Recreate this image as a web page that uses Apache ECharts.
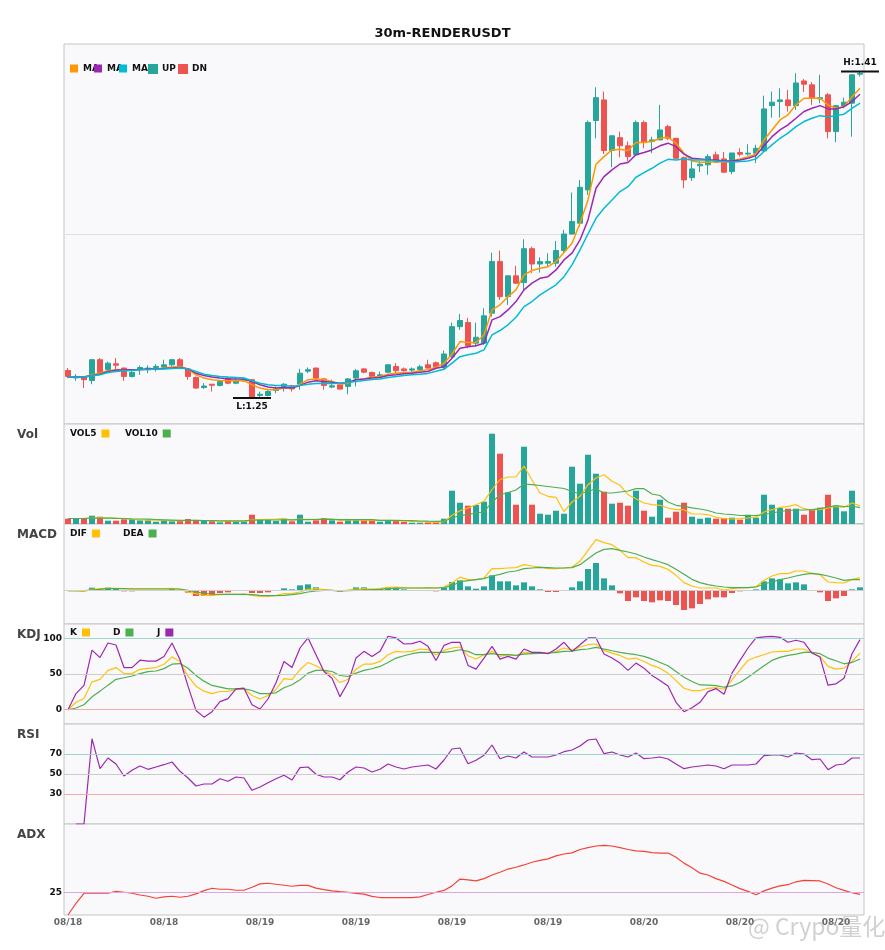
<!DOCTYPE html>
<html><head><meta charset="utf-8">
<script src="https://cdn.jsdelivr.net/npm/echarts@6/dist/echarts.min.js"></script>
<style>html,body{margin:0;padding:0;background:#fff}#c{width:885px;height:950px}</style>
</head><body><div id="c"></div>
<script>
// ---- categories (30m bars starting 08/18 12:00) ----
const categories = [];
(function(){const t0=Date.UTC(2024,7,18,12,0);const p=n=>String(n).padStart(2,'0');
for(let i=0;i<100;i++){const d=new Date(t0+i*1800000);categories.push(p(d.getUTCMonth()+1)+'/'+p(d.getUTCDate())+' '+p(d.getUTCHours())+':'+p(d.getUTCMinutes()));}})();

// ---- price data ----
const opens = [1.2634,1.2598,1.2602,1.2585,1.2687,1.2638,1.2667,1.2646,1.2605,1.2642,
1.2638,1.2649,1.2651,1.2662,1.2687,1.2642,1.2600,1.2551,1.2567,1.2561,
1.2597,1.2572,1.2584,1.2589,1.2512,1.2512,1.2536,1.2548,1.2559,1.2567,
1.2631,1.2646,1.2593,1.2553,1.2564,1.2556,1.2597,1.2642,1.2624,1.2607,
1.2626,1.2654,1.2642,1.2636,1.2639,1.2662,1.2672,1.2650,1.2702,1.2849,
1.2869,1.2768,1.2768,1.2915,1.3168,1.2996,1.3098,1.3065,1.3231,1.3156,
1.3160,1.3160,1.3222,1.3303,1.3356,1.3519,1.3859,1.3960,1.3712,1.3775,
1.3735,1.3691,1.3849,1.3756,1.3764,1.3829,1.3772,1.3677,1.3579,1.3637,
1.3642,1.3691,1.3671,1.3609,1.3702,1.3695,1.3699,1.3710,1.3932,1.3952,
1.3960,1.3932,1.4053,1.4034,1.3965,1.3985,1.3805,1.3932,1.3944,1.4086];
const closes = [1.2605,1.2605,1.2589,1.2687,1.2624,1.2670,1.2660,1.2605,1.2624,1.2649,
1.2646,1.2654,1.2662,1.2687,1.2649,1.2605,1.2548,1.2558,1.2562,1.2580,
1.2572,1.2584,1.2592,1.2502,1.2518,1.2531,1.2543,1.2567,1.2544,1.2621,
1.2638,1.2597,1.2561,1.2559,1.2543,1.2593,1.2633,1.2626,1.2605,1.2613,
1.2662,1.2633,1.2633,1.2642,1.2652,1.2646,1.2652,1.2715,1.2849,1.2879,
1.2755,1.2797,1.2902,1.3168,1.2996,1.3098,1.3062,1.3231,1.3156,1.3168,
1.3168,1.3222,1.3303,1.3364,1.3532,1.3849,1.3971,1.3712,1.3784,1.3735,
1.3682,1.3849,1.3751,1.3764,1.3813,1.3772,1.3674,1.3568,1.3622,1.3645,
1.3682,1.3655,1.3606,1.3700,1.3694,1.3699,1.3723,1.3916,1.3949,1.3960,
1.3932,1.4043,1.4037,1.3968,1.3971,1.3805,1.3932,1.3949,1.4083,1.4091];
const lows = [1.2597,1.2584,1.2548,1.2567,1.2621,1.2621,1.2638,1.2584,1.2600,1.2613,
1.2621,1.2629,1.2642,1.2654,1.2646,1.2589,1.2544,1.2544,1.2531,1.2556,
1.2567,1.2567,1.2577,1.2499,1.2499,1.2507,1.2523,1.2531,1.2531,1.2540,
1.2621,1.2593,1.2540,1.2548,1.2540,1.2518,1.2556,1.2621,1.2602,1.2597,
1.2621,1.2621,1.2629,1.2626,1.2633,1.2642,1.2646,1.2637,1.2694,1.2833,
1.2743,1.2751,1.2760,1.2898,1.2980,1.2956,1.3059,1.3029,1.3111,1.3114,
1.3143,1.3143,1.3209,1.3299,1.3339,1.3495,1.3772,1.3695,1.3630,1.3679,
1.3658,1.3691,1.3723,1.3699,1.3764,1.3764,1.3671,1.3527,1.3563,1.3606,
1.3593,1.3655,1.3601,1.3596,1.3682,1.3687,1.3650,1.3707,1.3873,1.3873,
1.3903,1.3911,1.3998,1.3936,1.3944,1.3772,1.3753,1.3919,1.3780,1.4075];
const highs = [1.2646,1.2616,1.2605,1.2691,1.2695,1.2678,1.2695,1.2649,1.2638,1.2659,
1.2659,1.2665,1.2687,1.2691,1.2695,1.2646,1.2605,1.2572,1.2567,1.2584,
1.2605,1.2597,1.2600,1.2592,1.2531,1.2540,1.2556,1.2572,1.2564,1.2642,
1.2649,1.2649,1.2597,1.2589,1.2567,1.2597,1.2642,1.2646,1.2629,1.2629,
1.2665,1.2670,1.2649,1.2649,1.2662,1.2687,1.2678,1.2732,1.2869,1.2911,
1.2892,1.2869,1.2939,1.3212,1.3222,1.3098,1.3147,1.3277,1.3241,1.3189,
1.3209,1.3269,1.3323,1.3506,1.3568,1.3859,1.4022,1.4001,1.3784,1.3805,
1.3756,1.3859,1.3859,1.3780,1.3936,1.3838,1.3772,1.3682,1.3666,1.3661,
1.3694,1.3707,1.3704,1.3700,1.3723,1.3743,1.3740,1.3981,1.4001,1.4017,
1.4009,1.4091,1.4063,1.4047,1.4083,1.3993,1.3932,1.3971,1.4083,1.4099];

const ma5 = [1.2602,1.2603,1.2603,1.2613,1.2621,1.2633,1.2638,1.2636,1.2636,1.2638,
1.2642,1.2642,1.2646,1.2651,1.2654,1.2642,1.2613,1.2597,1.2589,1.2585,
1.2584,1.2584,1.2585,1.2564,1.2548,1.2540,1.2540,1.2548,1.2548,1.2567,
1.2589,1.2592,1.2589,1.2580,1.2567,1.2572,1.2589,1.2593,1.2602,1.2605,
1.2616,1.2621,1.2624,1.2626,1.2633,1.2638,1.2650,1.2670,1.2715,1.2776,
1.2771,1.2771,1.2809,1.2931,1.2956,1.2996,1.3029,1.3103,1.3124,1.3135,
1.3143,1.3168,1.3212,1.3258,1.3356,1.3470,1.3645,1.3682,1.3715,1.3718,
1.3712,1.3751,1.3751,1.3756,1.3772,1.3777,1.3748,1.3699,1.3661,1.3655,
1.3655,1.3658,1.3655,1.3661,1.3671,1.3682,1.3694,1.3764,1.3813,1.3862,
1.3887,1.3936,1.3968,1.3968,1.3968,1.3936,1.3919,1.3927,1.3976,1.4017];
const ma10 = [1.2602,1.2602,1.2602,1.2610,1.2616,1.2629,1.2636,1.2636,1.2638,1.2639,
1.2641,1.2642,1.2644,1.2646,1.2649,1.2642,1.2621,1.2610,1.2602,1.2597,
1.2593,1.2592,1.2592,1.2580,1.2564,1.2553,1.2548,1.2551,1.2548,1.2561,
1.2577,1.2584,1.2580,1.2577,1.2572,1.2577,1.2589,1.2592,1.2597,1.2600,
1.2610,1.2613,1.2618,1.2621,1.2626,1.2629,1.2645,1.2653,1.2694,1.2743,
1.2751,1.2755,1.2768,1.2882,1.2898,1.2931,1.2972,1.3029,1.3062,1.3086,
1.3094,1.3127,1.3176,1.3209,1.3274,1.3372,1.3527,1.3584,1.3617,1.3646,
1.3653,1.3691,1.3702,1.3715,1.3735,1.3748,1.3731,1.3694,1.3674,1.3671,
1.3667,1.3666,1.3661,1.3661,1.3666,1.3674,1.3687,1.3736,1.3780,1.3813,
1.3838,1.3870,1.3903,1.3919,1.3932,1.3916,1.3916,1.3927,1.3952,1.3988];
const ma20 = [1.2602,1.2602,1.2602,1.2608,1.2613,1.2624,1.2629,1.2633,1.2634,1.2638,
1.2639,1.2641,1.2642,1.2644,1.2646,1.2642,1.2629,1.2616,1.2610,1.2605,
1.2602,1.2600,1.2597,1.2584,1.2572,1.2564,1.2561,1.2561,1.2556,1.2561,
1.2567,1.2571,1.2572,1.2571,1.2572,1.2577,1.2580,1.2585,1.2590,1.2593,
1.2600,1.2605,1.2610,1.2613,1.2616,1.2620,1.2630,1.2640,1.2670,1.2702,
1.2711,1.2719,1.2735,1.2809,1.2830,1.2858,1.2895,1.2947,1.2972,1.3005,
1.3029,1.3054,1.3094,1.3152,1.3225,1.3303,1.3380,1.3429,1.3470,1.3511,
1.3535,1.3581,1.3604,1.3625,1.3650,1.3669,1.3666,1.3671,1.3666,1.3666,
1.3665,1.3661,1.3658,1.3655,1.3658,1.3661,1.3671,1.3707,1.3740,1.3772,
1.3797,1.3829,1.3854,1.3870,1.3883,1.3878,1.3883,1.3890,1.3919,1.3944];

// ---- volume (K) ----
const volumes = [5.3,5,6,8.3,7.3,3.3,3.3,4.7,4.7,3.7,
3.7,2.3,4,2.7,3,5,3.7,3,2.7,1.7,
3,2.7,2.7,9.3,4,4,3,5.3,2.7,9.3,
2.3,3.7,6,3.7,2.3,4,5,3.7,3.7,2.3,
3.7,3.3,2.3,1.3,1.3,1.7,2,5.3,33.3,21.3,
18.3,19,22.3,90.3,70.3,31.7,19.3,77.3,19.3,10.3,
9.3,13.3,10.3,57.3,40.3,69.3,50.3,32.3,20.3,21.3,
18.3,33.3,13.3,7.3,24.3,6.3,12.3,21.3,7.3,5.3,
6.3,5.3,6,6.3,4.3,9.3,6.3,29.3,19.3,16,
15.3,15.3,9.3,14.3,16.3,29.3,18.3,12.7,33.3,0.3];
const vol5 = [5.5,5.5,5.7,6,6.5,6,5.8,5.5,4.5,4,
3.8,3.8,3.6,3.3,3.2,3.5,3.6,3.5,3.5,3,
2.8,2.6,2.6,4.2,4.5,4.7,4.8,5.3,3.8,4.9,
4.6,4.7,4.8,5,3.6,3.9,4.2,3.7,3.7,3.7,
3.7,3.3,3.1,2.6,2.4,2,1.7,2.3,8.7,13.3,
16,19.3,22.7,34.5,44.5,47,47,58,44,31,
27.7,26.7,12.3,22,27.7,39.3,46,49.3,42.7,38.7,
29.3,25.3,21,19.3,18.7,16,14.3,14.3,10,10,
9.3,6.7,5.3,5,5.3,6,6.7,12,14.3,16.7,
17.7,19.3,15.3,14,14.3,16,17.7,16.7,21,18.3];
const vol10 = [5.5,5.5,5.5,5.8,5.9,5.8,5.6,5.5,5.2,5,
4.8,4.5,4.2,3.9,3.6,3.6,3.6,3.4,3.3,3.1,
3.2,3.1,3.1,3.8,3.9,4,4,4.2,4.2,4.4,
4.4,4.5,4.8,4.6,4.4,4.4,4.4,4.3,4.3,3.7,
3.7,3.6,3.5,3.3,3,2.8,2.7,2.8,5.8,8.7,
9.3,11,12,22,29,31.5,34,40,39.3,38.5,
37.5,36.5,35.5,32.5,30,32.7,35.3,31,31,32,
33,35.3,35.3,30,28.5,22,18.7,17.7,16.2,15,
13.5,11,10,9.5,8.5,8.5,8.3,9.5,11,12.5,
13.5,14,14,14.3,15.3,17,18.3,17.5,17.5,16.7];

// ---- MACD ----
const macdHist = [0,0,0,0.0009,0.0004,0.0009,0.0008,-0.0002,-0.0002,0.0001,
0.0001,0.0001,0.0001,0.0007,-0.0001,-0.0006,-0.0016,-0.0016,-0.0014,-0.0007,
-0.0005,-0.0001,0.0001,-0.0007,-0.0007,-0.0005,0.0001,0.0007,0.0004,0.0016,
0.0019,0.001,0.0004,0.0001,-0.0003,0.0002,0.001,0.001,0.0003,0.0006,
0.001,0.001,0.0004,0.0001,0.0001,0.0001,-0.0002,0.0008,0.0026,0.0031,
0.0013,0.0006,0.0013,0.0046,0.0028,0.0028,0.0016,0.0025,0.0013,0.0004,
-0.0004,-0.0004,0.0001,0.001,0.0028,0.0065,0.0083,0.0037,0.0016,-0.0008,
-0.0031,-0.002,-0.0031,-0.0035,-0.0029,-0.0031,-0.0043,-0.0058,-0.0053,-0.004,
-0.0026,-0.002,-0.002,-0.0007,-0.0002,0.0001,0.0004,0.0028,0.0037,0.0034,
0.0022,0.0025,0.0019,0.0001,-0.0005,-0.0031,-0.0023,-0.0016,0.0004,0.001];
const dif = [0,-0.0001,-0.0002,0.0004,0.0006,0.0008,0.0007,0.0006,0.0006,0.0006,
0.0006,0.0006,0.0006,0.0007,0.0004,-0.0004,-0.0009,-0.0014,-0.0014,-0.0012,
-0.0011,-0.0011,-0.001,-0.0014,-0.0017,-0.0017,-0.0014,-0.0009,-0.0009,-0.0004,
0.0004,0.0006,0.0003,0.0001,-0.0001,0.0002,0.0005,0.0006,0.0005,0.0006,
0.001,0.0011,0.0009,0.0008,0.0008,0.0009,0.0008,0.0011,0.0024,0.004,
0.0034,0.0033,0.0038,0.0066,0.0066,0.0068,0.0069,0.0078,0.0074,0.0071,
0.0066,0.0066,0.0068,0.0071,0.0088,0.0121,0.0153,0.0144,0.0138,0.0121,
0.0099,0.0099,0.0086,0.0076,0.0073,0.0064,0.0046,0.0024,0.0014,0.0008,
0.0008,0.0008,0.0002,0.0006,0.0008,0.0009,0.0012,0.0031,0.0044,0.0051,
0.0051,0.0059,0.0059,0.0051,0.0048,0.0026,0.0024,0.0023,0.0034,0.0039];
const dea = [0,0,0,0.0002,0.0004,0.0006,0.0006,0.0006,0.0005,0.0005,
0.0005,0.0005,0.0005,0.0005,0.0005,0.0001,-0.0004,-0.0008,-0.001,-0.0011,
-0.0011,-0.0011,-0.0011,-0.0012,-0.0014,-0.0015,-0.0015,-0.0014,-0.0012,-0.0009,
-0.0004,-0.0001,0.0001,0.0001,-0.0001,0,0.0001,0.0002,0.0003,0.0004,
0.0006,0.0007,0.0008,0.0008,0.0008,0.0008,0.0008,0.0009,0.0015,0.0027,
0.003,0.0033,0.0036,0.0044,0.0049,0.0056,0.0059,0.0066,0.0068,0.007,
0.0069,0.0068,0.0068,0.0069,0.0078,0.0096,0.0113,0.0124,0.0126,0.0121,
0.0116,0.011,0.0101,0.0093,0.0086,0.0078,0.0064,0.0049,0.0034,0.0024,
0.0018,0.0014,0.0011,0.0009,0.0009,0.0009,0.0011,0.002,0.0026,0.0033,
0.0038,0.0044,0.0049,0.0052,0.0049,0.0044,0.0038,0.0031,0.0033,0.0033];

// ---- KDJ ----
const kLine = [0,10.4,15.6,39,42.5,55,59,50.5,50.5,56.6,
58,59,63.7,74,67,47,33,26,22.6,25.5,
25.5,28.3,29.2,19.8,15,19.8,28.3,43.4,42,56,
66.2,61.5,55,48.8,38,42.7,56.8,63.8,63.8,67.6,
77,81.7,80.8,81.7,85,84,77,83,86.4,87.8,
75.6,70.9,77,81.7,74.6,77,75.6,80.3,79.3,79.3,
79.3,81.7,86.4,83.5,87.8,91,92,83,79.3,76,
70.9,72.3,67.6,62,58.2,51.2,40.8,30,26.8,26.8,
30,31,28.6,41.8,55.9,69,73.7,77,80.8,81.7,
81.7,85,85,79.3,74.6,60.6,56.8,58.2,67.6,79.3];
const dLine = [0,2.4,7,18,26,34.4,42.5,44.8,47.2,50.5,
53.3,54.2,57.5,63.7,64.6,58,48,40,34,31.6,
29.2,29.2,29.2,26.9,22.6,22.6,23.6,30.7,35,41.8,
51.2,55,55,53.5,47.9,46.5,51.2,55,57.3,60.6,
66.2,72.3,75.6,78.4,80.3,80.3,80.3,80.3,81.7,84,
81.7,77,77,78.4,77,77,76,77.9,78.4,78.9,
79.3,80.3,81.7,82,84,85,87.3,85,82.6,80.3,
78.4,77,74.6,70.9,66.2,61.5,53.5,45.5,39.4,34.7,
34.3,33.8,31.5,33.3,38,45.5,53.5,61.5,69,73.2,
76,77.9,80.3,80.3,78.4,72.3,68.5,64.3,66.2,70.9];
const jLine = [0,22.6,34,83.5,73,93.4,90.6,59,59,69.3,
68,68,74.5,93.4,70,33,-1,-10.4,-2.8,11.3,
15.6,29.2,30.2,7,1,15,37.7,67.5,59,86.4,
100.5,77,53.5,44,18.3,38,72.3,81.7,74.6,81.7,
102.8,100.5,92,92.5,95.8,88.7,69,90,94.4,94.4,
62,56.8,72.3,88.7,70.9,74.6,70.9,85,80.3,80.3,
78.4,85,94.4,81.7,91,100.5,100.5,78,72.3,65.3,
55,65.3,58.2,47.9,40.8,33.3,10.3,-2.8,2.8,10.3,
25.4,29.6,21.6,51.2,69,86.4,100.5,101.9,102.8,101.4,
94.4,97.2,94.4,79.3,73.7,34.3,36.2,44.1,78.4,98.1];

// ---- RSI / ADX ----
const rsi = ['-',0,0,85.3,55.3,66,60,48,53.7,58,
54.7,57,59.3,62,52.7,46,38,40,40,45.3,
42.7,47,46,33.7,37,41.3,45.3,48.7,44,56.3,
57,49.7,47,47,44.3,52,57,56,52,54.7,
60,57,55,57,58,59,55,64,75,76,
60.3,63.7,68.7,79,65.3,68,66,72,67,67,
67,69,72.3,74,78,84,85,70.3,72,69,
67,71,65.3,66,67,65,60,55.3,57,58,
59,58,55.3,59,59,59,60,68.3,69,69,
67,71,70,64.3,65,54.3,59,60,66,66];
const adx = [0,12.9,23.9,23.9,23.9,23.9,26.1,25,23.9,22,
20.6,18.4,19.9,20.6,19.5,20.6,23.2,26.8,29.4,28.3,
28.3,27.2,27.2,30.5,34.2,34.9,33.8,32.7,31.6,32.5,
32.6,29.5,27.8,26.5,25.6,24.8,23.8,23,20.5,19.2,
19,19,19,19,20,22.5,25,27,32,39.5,
38.5,37.5,40,44,47,50.5,52.5,55,58,60,
61.7,65,67,68.3,72,74,75.8,76.6,75.8,74,
72,70.5,70,68.5,68.1,68.1,63.5,57,52,46,
44,40,37,33,29,26,22.3,26.5,29.5,32,
33.3,36.5,38,37.8,37.4,34,30,27,24.5,22.7];

const kdjLevels = [0, 50, 100];
const rsiLevels = [30, 50, 70];
const adxLevels = [25];

// ---------------------------------------------------------------
const FONT = '"DejaVu Sans", sans-serif';
const UP = '#26a69a', DN = '#ef5350';
const isUp = i => closes[i] >= opens[i];
const upData = opens.map((o, i) => isUp(i) ? [o, closes[i], lows[i], highs[i]] : ['-', '-', '-', '-']);
const dnData = opens.map((o, i) => !isUp(i) ? [o, closes[i], lows[i], highs[i]] : ['-', '-', '-', '-']);
let hiIdx = 0, loIdx = 0;
highs.forEach((h, i) => { if (h > highs[hiIdx]) hiIdx = i; });
lows.forEach((l, i) => { if (l < lows[loIdx]) loIdx = i; });

const chart = echarts.init(document.getElementById('c'), null, {renderer: 'canvas'});
const gridDefs = [[44, 380], [424, 100], [524, 100], [624, 100], [724, 100], [824, 91]];
const grid = gridDefs.map(g => ({left: 64, width: 800, top: g[0], height: g[1], show: true,
  backgroundColor: '#f9f9fc', borderColor: '#c4c4c4', borderWidth: 1}));
const xAxis = gridDefs.map((g, k) => ({
  type: 'category', gridIndex: k, data: categories, boundaryGap: true,
  axisLine: {show: false}, axisTick: {show: false}, splitLine: {show: false},
  axisLabel: k === 5 ? {show: true, interval: 11, margin: 3, fontSize: 9, fontWeight: 'bold', color: '#666',
    fontFamily: FONT, formatter: v => v.slice(0, 5)} : {show: false}
}));
const hidden = {axisLine: {show: false}, axisTick: {show: false}, axisLabel: {show: false}, splitLine: {show: false}};
const yAxis = [
  Object.assign({gridIndex: 0, type: 'value', min: 1.2372, max: 1.4234}, hidden),
  Object.assign({}, hidden, {gridIndex: 0, type: 'value', min: 0, max: 2, interval: 1,
    splitLine: {show: true, showMinLine: false, showMaxLine: false, lineStyle: {color: '#dedee4', width: 1}}}),
  Object.assign({gridIndex: 1, type: 'value', min: 0, max: 100}, hidden),
  Object.assign({gridIndex: 2, type: 'value', min: -0.01, max: 0.02}, hidden),
  Object.assign({gridIndex: 3, type: 'value', min: -20, max: 120}, hidden),
  Object.assign({gridIndex: 4, type: 'value', min: 0, max: 100}, hidden),
  Object.assign({gridIndex: 5, type: 'value', min: 0, max: 100}, hidden)
];
const line = (name, data, color, xi, yi, w, extra) => Object.assign({
  name, type: 'line', data, xAxisIndex: xi, yAxisIndex: yi, symbol: 'none', showSymbol: false,
  lineStyle: {color, width: w || 1.2}, itemStyle: {color}, z: 3, silent: true
}, extra || {});
const levelLine = (levels, colors) => ({
  silent: true, symbol: 'none', animation: false,
  label: {show: true, position: 'start', distance: 2, fontSize: 9, fontWeight: 'bold', color: '#111',
    fontFamily: FONT, formatter: p => p.value},
  data: levels.map((v, i) => ({yAxis: v, lineStyle: {color: colors[i], width: 1, type: 'solid'}}))
});
const lg = (name, x, yc, align, w, fmt) => ({
  data: [name], left: x, top: yc - 5, align, icon: 'rect', itemWidth: 8, itemHeight: 8, padding: 0,
  textStyle: Object.assign({fontSize: 9, fontWeight: 'bold', color: '#111', fontFamily: FONT}, w ? {width: w} : {}),
  formatter: fmt || (n => n)
});
const maFmt = n => n.replace(/\d+$/, '');

const option = {
  animation: false,
  backgroundColor: '#ffffff',
  textStyle: {fontFamily: FONT},
  title: {text: '30m-RENDERUSDT', left: 'center', top: 27, padding: 0,
    textStyle: {fontSize: 13, fontWeight: 'bold', color: '#111', fontFamily: FONT}},
  legend: [
    lg('MA5', 70, 69, 'left', 0, maFmt), lg('MA10', 94, 69, 'left', 0, maFmt), lg('MA20', 119, 69, 'left', 0, maFmt),
    lg('UP', 148, 69, 'left'), lg('DN', 178, 69, 'left'),
    lg('VOL5', 70, 434, 'right', 27), lg('VOL10', 125, 434, 'right', 33),
    lg('DIF', 70, 534, 'right', 22), lg('DEA', 123, 534, 'right', 25),
    lg('K', 70, 633, 'right', 12), lg('D', 113, 633, 'right', 13), lg('J', 157, 633, 'right', 13)
  ],
  grid, xAxis, yAxis,
  graphic: [
    ...[['Vol', 435], ['MACD', 535], ['KDJ', 635], ['RSI', 735], ['ADX', 835]].map(t => ({
      type: 'text', x: 17, y: t[1], silent: true,
      style: {text: t[0], fill: '#444', font: 'bold 12px "DejaVu Sans", sans-serif', verticalAlign: 'middle', align: 'left'}
    })),
    {type: 'text', x: 748, y: 926, silent: true, z: 100,
      style: {text: '@ Crypo量化', fill: 'rgba(150,150,150,0.45)', font: '23px "Noto Sans CJK SC"', verticalAlign: 'middle', align: 'left'}}
  ],
  series: [
    {name: 'UP', type: 'candlestick', data: upData, xAxisIndex: 0, yAxisIndex: 0, barWidth: 6,
      itemStyle: {color: UP, color0: UP, borderColor: UP, borderColor0: UP, borderWidth: 1}, z: 2,
      markPoint: {symbol: 'rect', symbolSize: [38, 2], silent: true, animation: false,
        itemStyle: {color: '#111'},
        label: {show: true, fontSize: 9, fontWeight: 'bold', color: '#111', fontFamily: FONT},
        data: [
          {coord: [hiIdx, highs[hiIdx]], label: {position: 'top', distance: 3, formatter: 'H:' + highs[hiIdx].toFixed(2)}},
          {coord: [loIdx, lows[loIdx]], label: {position: 'bottom', distance: 3, formatter: 'L:' + lows[loIdx].toFixed(2)}}
        ]}},
    {name: 'DN', type: 'candlestick', data: dnData, xAxisIndex: 0, yAxisIndex: 0, barWidth: 6,
      itemStyle: {color: DN, color0: DN, borderColor: DN, borderColor0: DN, borderWidth: 1}, z: 2},
    line('MA5', ma5, '#ff9800', 0, 0, 1.5),
    line('MA10', ma10, '#9c27b0', 0, 0, 1.5),
    line('MA20', ma20, '#00bcd4', 0, 0, 1.5),
    {name: 'Volume', type: 'bar', data: volumes, xAxisIndex: 1, yAxisIndex: 2, barWidth: 6,
      itemStyle: {color: p => isUp(p.dataIndex) ? UP : DN}, silent: true},
    line('VOL5', vol5, '#ffc107', 1, 2, 1.2),
    line('VOL10', vol10, '#4caf50', 1, 2, 1.2),
    {name: 'MACD', type: 'bar', data: macdHist, xAxisIndex: 2, yAxisIndex: 3, barWidth: 6,
      itemStyle: {color: p => p.value >= 0 ? UP : DN}, silent: true},
    line('DIF', dif, '#ffc107', 2, 3, 1.2, {markLine: {silent: true, symbol: 'none', animation: false, label: {show: false},
      data: [{yAxis: 0, lineStyle: {color: '#cfcfcf', width: 1, type: 'solid'}}]}}),
    line('DEA', dea, '#4caf50', 2, 3, 1.2),
    line('K', kLine, '#ffc107', 3, 4, 1.2, {markLine: levelLine(kdjLevels, ['#f6a9a9', '#cccccc', '#9fd5d1'])}),
    line('D', dLine, '#4caf50', 3, 4, 1.2),
    line('J', jLine, '#9c27b0', 3, 4, 1.2),
    line('RSI', rsi, '#9c27b0', 4, 5, 1.2, {markLine: levelLine(rsiLevels, ['#f6a9a9', '#cccccc', '#9fd5d1'])}),
    line('ADX', adx, '#f44336', 5, 6, 1.2, {markLine: levelLine(adxLevels, ['#dba6e6'])})
  ]
};
chart.setOption(option);
</script>
</body></html>
